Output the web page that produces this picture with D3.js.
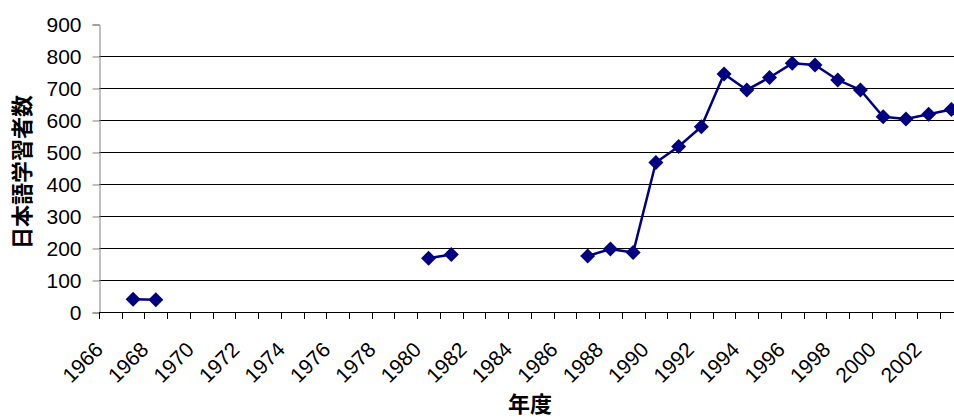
<!DOCTYPE html>
<html>
<head>
<meta charset="utf-8">
<script src="https://cdn.jsdelivr.net/npm/d3@7"></script>
<style>
  body { margin: 0; background: #fff; }
  svg { display: block; }
</style>
</head>
<body>
<div class="chart-container"></div>
<script>
const width = 954, height = 418;

// years on the category axis, 1966..2003
const years = [1966, 1967, 1968, 1969, 1970, 1971, 1972, 1973, 1974, 1975,
  1976, 1977, 1978, 1979, 1980, 1981, 1982, 1983, 1984, 1985,
  1986, 1987, 1988, 1989, 1990, 1991, 1992, 1993, 1994, 1995,
  1996, 1997, 1998, 1999, 2000, 2001, 2002, 2003];
// learners, null = no data that year
const learners = [null, 40, 38, null, null, null, null, null, null, null,
  null, null, null, null, 168, 180, null, null, null, null,
  null, 175, 197, 186, 467, 517, 579, 744, 694, 733,
  777, 772, 725, 694, 610, 603, 618, 633];
const yTicks = [0, 100, 200, 300, 400, 500, 600, 700, 800, 900];
const xLabels = years.filter(y => y % 2 == 0);

const yTitle = "日本語学習者数";
const xTitle = "年度";

var svg = d3.select(".chart-container")
  .append("svg")
  .attr("width", width)
  .attr("height", height);

const plotLeft = 99, plotTop = 24, plotBottom = 312;
const catW = 22.73;

var x = d3.scaleBand()
  .domain(years)
  .range([plotLeft, plotLeft + years.length * catW])
  .padding(0);

var y = d3.scaleLinear()
  .domain([0, 900])
  .range([plotBottom, plotTop]);

// gridlines (none at the top value)
svg.append("g")
  .selectAll("line")
  .data(yTicks.filter(t => t > 0 && t < 900))
  .enter()
  .append("line")
  .attr("x1", plotLeft)
  .attr("x2", plotLeft + years.length * catW)
  .attr("y1", d => Math.round(y(d)) + 0.5)
  .attr("y2", d => Math.round(y(d)) + 0.5)
  .attr("stroke", "#000")
  .attr("stroke-width", 1);

// y axis
var yAxis = svg.append("g")
  .attr("transform", "translate(" + (plotLeft + 0.5) + ",0.5)")
  .call(d3.axisLeft(y).tickValues(yTicks).tickSize(7).tickPadding(11));
yAxis.select(".domain").attr("stroke", "#808080");
yAxis.selectAll(".tick line").attr("stroke", "#808080");
yAxis.selectAll("text")
  .attr("font-family", "Arial, 'Liberation Sans', sans-serif")
  .attr("font-size", 21)
  .attr("fill", "#000");

// x axis: ticks at category boundaries
var xg = svg.append("g");
xg.append("line")
  .attr("x1", plotLeft)
  .attr("x2", plotLeft + years.length * catW)
  .attr("y1", plotBottom + 0.5)
  .attr("y2", plotBottom + 0.5)
  .attr("stroke", "#000");
xg.selectAll("line.tk")
  .data(d3.range(years.length + 1))
  .enter()
  .append("line")
  .attr("class", "tk")
  .attr("x1", i => Math.round(plotLeft + i * catW) + 0.5)
  .attr("x2", i => Math.round(plotLeft + i * catW) + 0.5)
  .attr("y1", plotBottom)
  .attr("y2", plotBottom + 7)
  .attr("stroke", "#000");
xg.selectAll("text")
  .data(xLabels)
  .enter()
  .append("text")
  .attr("transform", d => "translate(" + (x(d) + x.bandwidth() / 2 - 6) + "," + (plotBottom + 39) + ") rotate(-45)")
  .attr("text-anchor", "end")
  .attr("font-family", "Arial, 'Liberation Sans', sans-serif")
  .attr("font-size", 21)
  .attr("fill", "#000")
  .text(d => d);

// titles
svg.append("text")
  .attr("transform", "translate(30,172) rotate(-90)")
  .attr("text-anchor", "middle")
  .attr("font-family", "'Noto Sans CJK JP', sans-serif")
  .attr("font-weight", "bold")
  .attr("font-size", 22)
  .text(yTitle);

svg.append("text")
  .attr("x", 530)
  .attr("y", 412)
  .attr("text-anchor", "middle")
  .attr("font-family", "'Noto Sans CJK JP', sans-serif")
  .attr("font-weight", "bold")
  .attr("font-size", 22)
  .text(xTitle);

// series
const pts = years.map((yr, i) => ({ yr: yr, v: learners[i] }));
var line = d3.line()
  .defined(d => d.v != null)
  .x(d => x(d.yr) + x.bandwidth() / 2)
  .y(d => y(d.v));

svg.append("path")
  .datum(pts)
  .attr("d", line)
  .attr("fill", "none")
  .attr("stroke", "#000080")
  .attr("stroke-width", 2.5);

svg.append("g")
  .selectAll("path")
  .data(pts.filter(d => d.v != null))
  .enter()
  .append("path")
  .attr("transform", d => "translate(" + (x(d.yr) + x.bandwidth() / 2) + "," + y(d.v) + ")")
  .attr("d", "M0,-7.5L7.5,0L0,7.5L-7.5,0Z")
  .attr("fill", "#000080");
</script>
</body>
</html>
